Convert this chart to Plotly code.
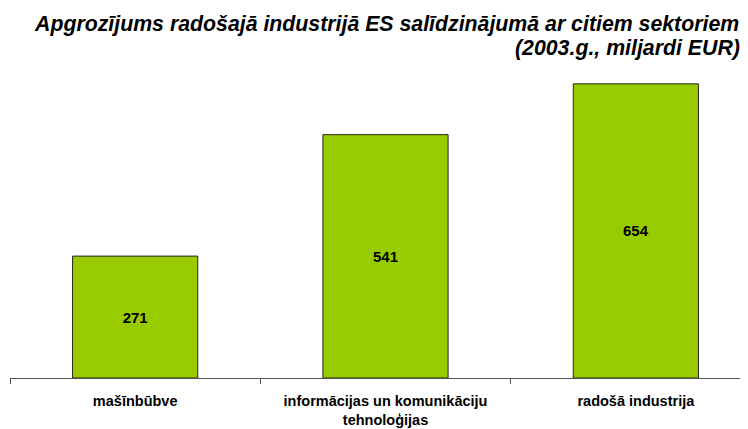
import plotly.graph_objects as go

categories = ["mašīnbūbve", "informācijas un komunikāciju<br>tehnoloģijas", "radošā industrija"]
values = [271, 541, 654]
title_lines = ["Apgrozījums radošajā industrijā ES salīdzinājumā ar citiem sektoriem",
               "(2003.g., miljardi EUR)"]

W, H, T, B, L = 748, 429, 43, 59, 2
plot_h = H - T - B
plot_w = W - L

def paper_y(px):
    return (H - B - px) / plot_h

def paper_x(px):
    return (px - L) / plot_w

fig = go.Figure()
fig.add_trace(go.Bar(
    x=categories, y=values, width=0.5,
    marker=dict(color="#99CC00", line=dict(color="#222222", width=1)),
    text=[str(v) for v in values], textposition="inside", insidetextanchor="middle",
    textfont=dict(family="Liberation Sans, Arial", size=15, color="black", weight="bold"),
    textangle=0, hoverinfo="skip",
))

title_font = dict(family="Liberation Sans, Arial", size=21.3, weight="bold", style="italic", color="black")
annotations = []
for line, xpx, ypx in zip(title_lines, [24, 505], [16, 40]):
    annotations.append(dict(
        text=line, xref="paper", yref="paper", x=paper_x(xpx), y=paper_y(ypx),
        xanchor="left", yanchor="middle", showarrow=False, font=title_font,
    ))

fig.update_layout(
    width=W, height=H,
    margin=dict(l=L, r=0, t=T, b=B),
    plot_bgcolor="white", paper_bgcolor="white",
    showlegend=False,
    font=dict(family="Liberation Sans, Arial", color="black"),
    xaxis=dict(
        range=[-0.5, 2.48],
        showline=True, linecolor="#555555", linewidth=1,
        ticks="outside", tickson="boundaries", ticklen=5, tickcolor="#555555",
        tickfont=dict(size=14.5, weight="bold"),
        ticklabelstandoff=10,
        showgrid=False,
    ),
    yaxis=dict(range=[0, 727], visible=False, showgrid=False, zeroline=False),
    annotations=annotations,
)
fig.write_html("out.html")
